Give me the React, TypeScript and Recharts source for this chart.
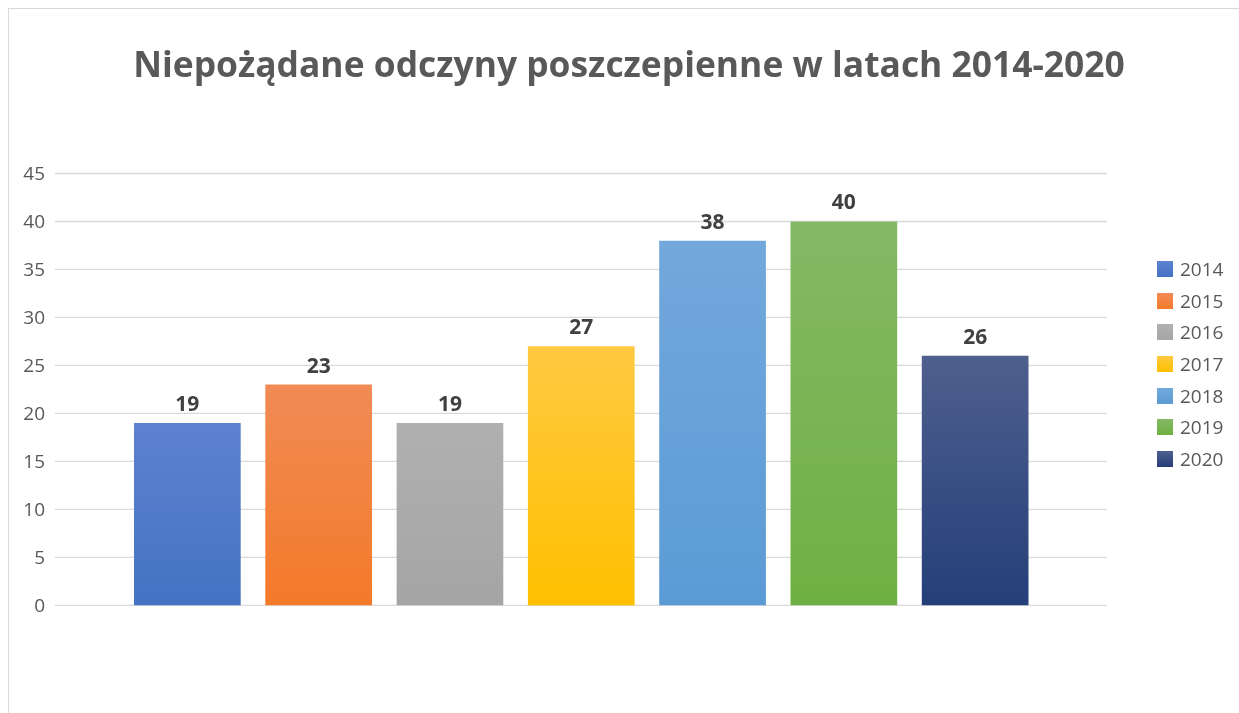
import React from 'react';
import { BarChart, Bar, XAxis, YAxis, CartesianGrid, Legend, LabelList } from 'recharts';

const years = ['2014', '2015', '2016', '2017', '2018', '2019', '2020'];
const values = [19, 23, 19, 27, 38, 40, 26];
const topColors = ['#5d82cf', '#f08b55', '#b0b0b0', '#ffc941', '#72a8dc', '#85b865', '#4f5f8e'];
const bottomColors = ['#4472c4', '#f47a2a', '#a5a5a5', '#ffc000', '#5b9bd5', '#6fb043', '#243f79'];
const yTicks = [0, 5, 10, 15, 20, 25, 30, 35, 40, 45];
const category = ['Niepożądane odczyny'];
const title = 'Niepożądane odczyny poszczepienne w latach 2014-2020';

const data = category.map((c) => {
  const row: Record<string, string | number> = { name: c };
  years.forEach((y, i) => {
    row['y' + y] = values[i];
  });
  return row;
});

const FONT = '"Open Sans", sans-serif';

const renderLegend = (props: any) => {
  const payload = (props.payload || []) as any[];
  return (
    <div style={{ fontFamily: FONT }}>
      {payload.map((entry: any) => {
        const idx = years.indexOf(String(entry.value));
        return (
          <div key={entry.value} style={{ display: 'flex', alignItems: 'center', height: 31.7 }}>
            <div
              style={{
                width: 16,
                height: 16,
                background: `linear-gradient(to bottom, ${topColors[idx]}, ${bottomColors[idx]})`,
              }}
            />
            <span style={{ marginLeft: 7, fontSize: 19, color: '#595959', lineHeight: '20px' }}>{entry.value}</span>
          </div>
        );
      })}
    </div>
  );
};

export default function App() {
  return (
    <div style={{ position: 'relative', width: 1223, height: 697, overflow: 'hidden' }}>
      <div
        style={{
          position: 'fixed',
          left: 8,
          top: 8,
          width: 1400,
          height: 900,
          borderTop: '1px solid #d9d9d9',
          borderLeft: '1px solid #d9d9d9',
          boxSizing: 'border-box',
          pointerEvents: 'none',
        }}
      />
      <BarChart
        width={1231}
        height={705}
        data={data}
        margin={{ top: 165.5, right: 42, bottom: 107.7, left: 0 }}
        barSize={106.7}
        barGap={24.6}
      >
        <defs>
          {years.map((y, i) => (
            <linearGradient key={y} id={'grad' + y} x1="0" y1="0" x2="0" y2="1">
              <stop offset="0%" stopColor={topColors[i]} />
              <stop offset="100%" stopColor={bottomColors[i]} />
            </linearGradient>
          ))}
        </defs>
        <text
          x={621}
          y={69}
          textAnchor="middle"
          style={{ fontFamily: FONT, fontWeight: 700, fontSize: 35.4, fill: '#595959' }}
        >
          {title}
        </text>
        <CartesianGrid vertical={false} stroke="#d9d9d9" strokeWidth={1.3} />
        <XAxis dataKey="name" hide />
        <YAxis
          width={47}
          domain={[0, 45]}
          ticks={yTicks}
          interval={0}
          axisLine={false}
          tickLine={false}
          tickSize={0}
          tickMargin={10}
          tick={{ fontFamily: FONT, fontSize: 19, fill: '#595959' }}
        />
        <Legend
          layout="horizontal"
          verticalAlign="middle"
          align="right"
          content={renderLegend}
          wrapperStyle={{ left: 1149, top: 245, width: 90 }}
        />
        {years.map((y) => (
          <Bar key={y} dataKey={'y' + y} name={y} fill={'url(#grad' + y + ')'} isAnimationActive={false}>
            <LabelList
              dataKey={'y' + y}
              position="top"
              offset={12}
              style={{ fontFamily: FONT, fontWeight: 700, fontSize: 21, fill: '#404040' }}
            />
          </Bar>
        ))}
      </BarChart>
    </div>
  );
}
